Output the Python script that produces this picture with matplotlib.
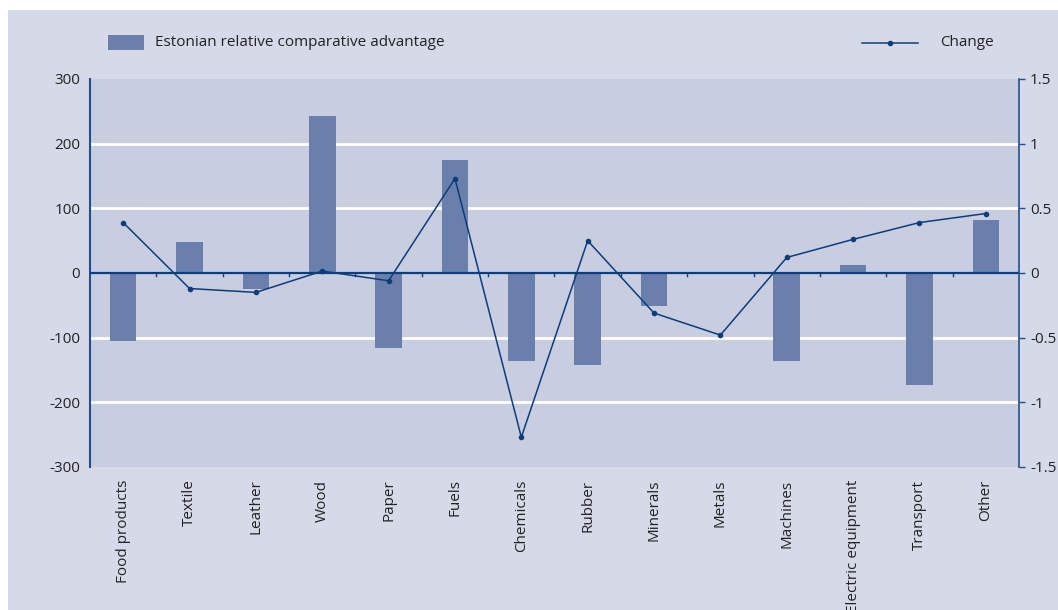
import matplotlib
matplotlib.use("Agg")
import matplotlib.pyplot as plt
from matplotlib.patches import Rectangle
from matplotlib.lines import Line2D
import numpy as np

plt.rcParams['font.family'] = ['Open Sans', 'DejaVu Sans']

categories = ["Food products", "Textile", "Leather", "Wood", "Paper", "Fuels",
              "Chemicals", "Rubber", "Minerals", "Metals", "Machines",
              "Electric equipment", "Transport", "Other"]
rca = [-105, 48, -25, 243, -116, 175, -136, -142, -51, 0, -136, 12, -173, 82]
change = [0.39, -0.12, -0.15, 0.015, -0.06, 0.73, -1.27, 0.25, -0.31, -0.48,
          0.12, 0.26, 0.39, 0.46]
left_ticks = [-300, -200, -100, 0, 100, 200, 300]
right_ticks = [-1.5, -1, -0.5, 0, 0.5, 1, 1.5]
right_labels = ["-1.5", "-1", "-0.5", "0", "0.5", "1", "1.5"]

outer_bg = "#d6dae8"
plot_bg = "#c8cde0"
bar_col = "#6b7fad"
line_col = "#0e3d7c"
axis_col = "#1f4f8f"
text_col = "#222222"
fs = 11

W, H = 1058, 610
fig = plt.figure(figsize=(W / 100, H / 100), dpi=100)
fig.patch.set_facecolor("white")
fig.patches.append(Rectangle((8 / W, 0), 1, 600 / H, transform=fig.transFigure,
                             facecolor=outer_bg, edgecolor="none", zorder=-10))

ax = fig.add_axes([90 / W, (H - 467) / H, (1019 - 90) / W, (467 - 79) / H])
ax.set_facecolor(plot_bg)
x = np.arange(len(categories))

for v in [-200, -100, 100, 200]:
    ax.axhline(v, color="white", lw=2, zorder=1)

ax.bar(x, rca, width=0.4, color=bar_col, zorder=2)
ax.axhline(0, color=line_col, lw=1.6, zorder=3)
# small boundary ticks on the zero line
for b in np.arange(0.5, len(categories) - 1, 1.0):
    ax.plot([b, b], [0, -4], color=line_col, lw=1, zorder=3)

ax.set_xlim(-0.5, len(categories) - 0.5)
ax.set_ylim(-300, 300)
ax.set_yticks(left_ticks)
ax.set_yticklabels([str(t) for t in left_ticks], fontsize=fs, color=text_col)
ax.tick_params(axis="y", length=0, pad=7)
ax.set_xticks(x)
ax.set_xticklabels(categories, rotation=90, fontsize=fs, color=text_col,
                   va="top", ha="center")
ax.tick_params(axis="x", length=0, pad=9)
for s in ["top", "right", "bottom"]:
    ax.spines[s].set_visible(False)
ax.spines["left"].set_color(axis_col)
ax.spines["left"].set_linewidth(1.5)

ax2 = ax.twinx()
ax2.plot(x, change, color=line_col, lw=1.1, marker="o", markersize=3, zorder=4)
ax2.set_ylim(-1.5, 1.5)
ax2.set_yticks(right_ticks)
ax2.set_yticklabels(right_labels, fontsize=fs, color=text_col)
ax2.tick_params(axis="y", length=4, width=1, color=axis_col, pad=4)
for s in ["top", "left", "bottom"]:
    ax2.spines[s].set_visible(False)
ax2.spines["right"].set_color(axis_col)
ax2.spines["right"].set_linewidth(1.2)

# legend
fig.patches.append(Rectangle((108 / W, (H - 50) / H), 36 / W, 15 / H,
                             transform=fig.transFigure, facecolor=bar_col,
                             edgecolor="none"))
fig.text(155 / W, (H - 43) / H, "Estonian relative comparative advantage",
         fontsize=fs, color=text_col, va="center", ha="left")
fig.lines.append(Line2D([862 / W, 918 / W], [(H - 43) / H] * 2,
                        transform=fig.transFigure, color=line_col, lw=1.1))
fig.lines.append(Line2D([890 / W], [(H - 43) / H], transform=fig.transFigure,
                        color=line_col, marker="o", markersize=3))
fig.text(940 / W, (H - 43) / H, "Change", fontsize=fs, color=text_col,
         va="center", ha="left")

fig.savefig("out.png", dpi=100, facecolor=fig.get_facecolor())
